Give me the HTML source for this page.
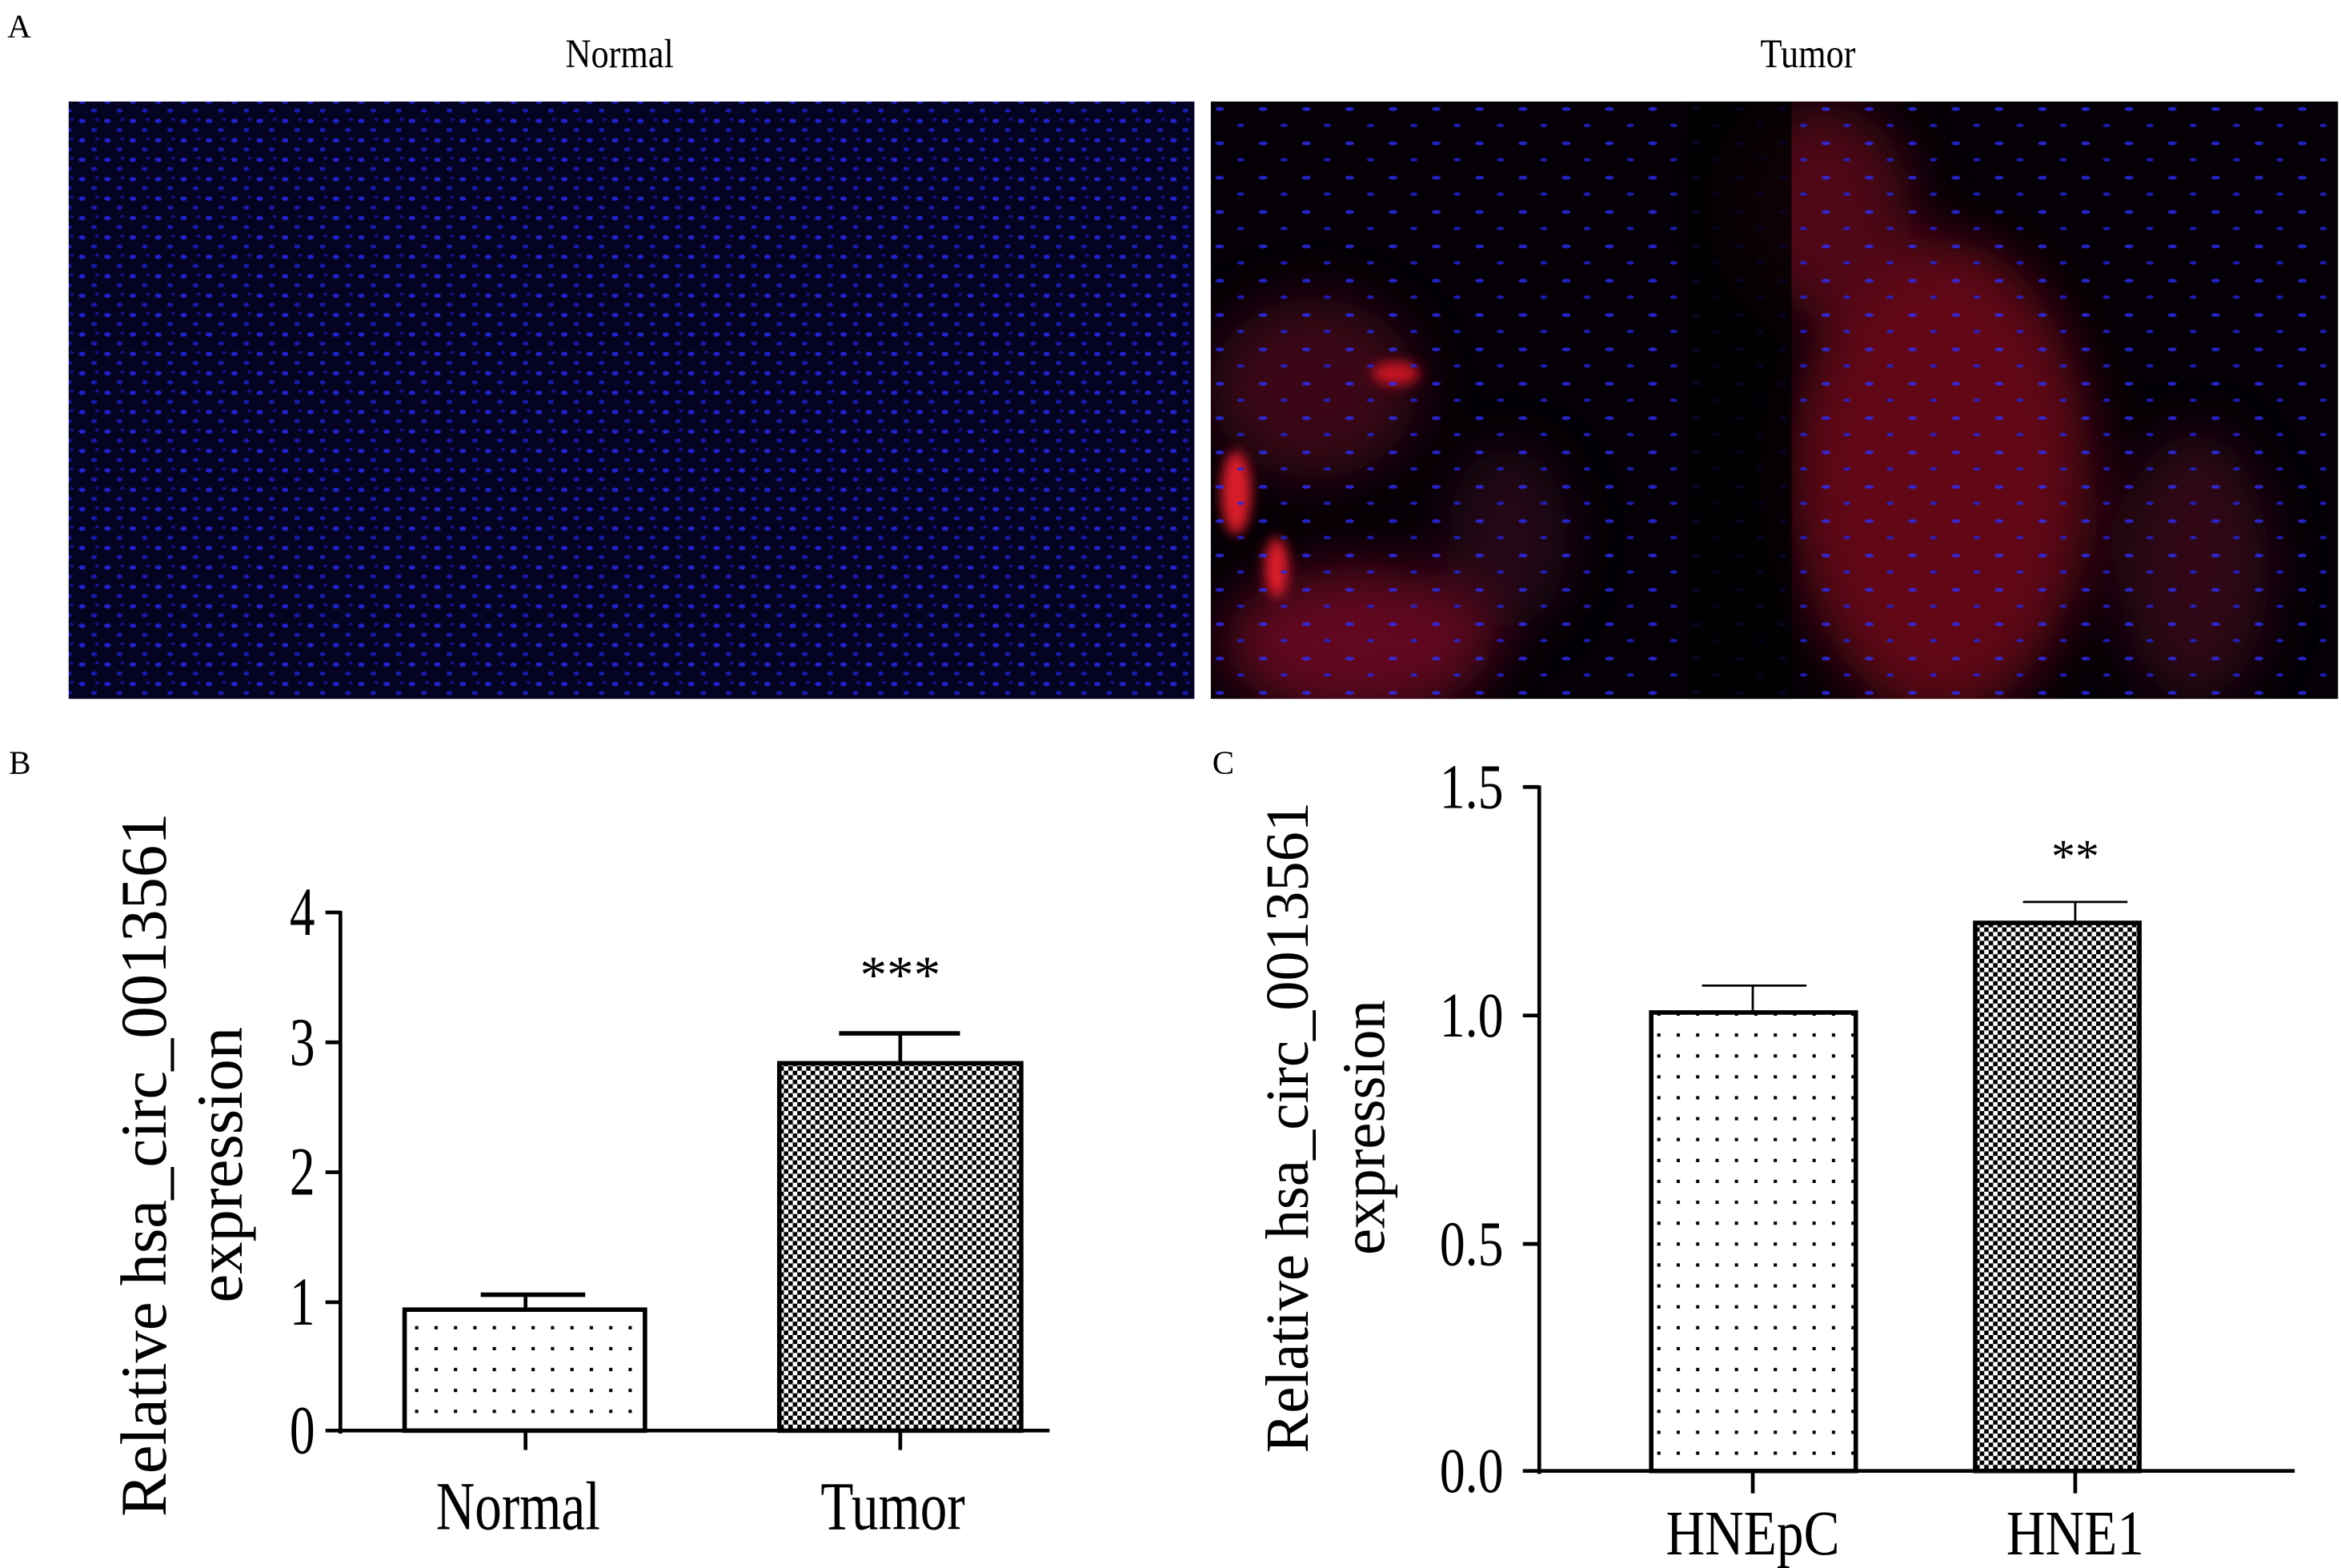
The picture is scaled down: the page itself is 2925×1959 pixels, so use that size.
<!DOCTYPE html>
<html><head><meta charset="utf-8"><style>html,body{margin:0;padding:0;background:#fff}svg{display:block}</style></head>
<body>
<svg width="2925" height="1959" viewBox="0 0 1568 1050" preserveAspectRatio="none" xmlns="http://www.w3.org/2000/svg" font-family="Liberation Serif, serif">
<defs>
<pattern id="dots" width="13" height="14" patternUnits="userSpaceOnUse"><rect width="13" height="14" fill="#fff"/><rect x="5" y="6" width="2.2" height="2.2" fill="#000"/></pattern>
<pattern id="chk" width="6" height="6" patternUnits="userSpaceOnUse"><rect width="6" height="6" fill="#fff"/><rect width="3" height="3" fill="#000"/><rect x="3" y="3" width="3" height="3" fill="#000"/></pattern>
<pattern id="nuc" width="17" height="13" patternUnits="userSpaceOnUse"><rect width="17" height="13" fill="#040422"/><ellipse cx="4" cy="3" rx="2.2" ry="1.5" fill="#2222c8"/><ellipse cx="12" cy="9" rx="2" ry="1.4" fill="#1a1aa8"/><ellipse cx="14" cy="2" rx="1.4" ry="1" fill="#12128a"/></pattern>
<pattern id="nuc2" width="29" height="23" patternUnits="userSpaceOnUse"><ellipse cx="5" cy="4" rx="3" ry="1.3" fill="#2f2fff"/><ellipse cx="19" cy="15" rx="2.5" ry="1.2" fill="#2525e0"/></pattern>
<filter id="bl" x="-50%" y="-50%" width="200%" height="200%"><feGaussianBlur stdDeviation="18"/></filter>
<filter id="bl2" x="-50%" y="-50%" width="200%" height="200%"><feGaussianBlur stdDeviation="4"/></filter>
<clipPath id="cr"><rect x="811" y="68" width="755" height="400"/></clipPath>
</defs>
<rect width="1568" height="1050" fill="#fff"/>
<text x="5" y="25" font-size="22">A</text>
<text transform="translate(415,45) scale(0.95,1.1)" font-size="25" text-anchor="middle">Normal</text>
<text transform="translate(1211,45) scale(0.95,1.1)" font-size="25" text-anchor="middle">Tumor</text>
<rect x="46" y="68" width="754" height="400" fill="url(#nuc)"/>
<rect x="811" y="68" width="755" height="400" fill="#040006"/>
<g clip-path="url(#cr)">
<g filter="url(#bl)" opacity="0.6">
<ellipse cx="1300" cy="320" rx="100" ry="160" fill="#a01020"/>
<ellipse cx="1220" cy="140" rx="60" ry="70" fill="#801020"/>
<ellipse cx="910" cy="430" rx="90" ry="50" fill="#a01030"/>
<ellipse cx="880" cy="260" rx="70" ry="60" fill="#600a20"/>
<ellipse cx="1470" cy="380" rx="50" ry="90" fill="#500a20"/>
<ellipse cx="1010" cy="360" rx="40" ry="60" fill="#3a0820"/>
</g>
<g filter="url(#bl2)" opacity="0.85">
<ellipse cx="828" cy="330" rx="10" ry="28" fill="#ff2030"/>
<ellipse cx="855" cy="380" rx="8" ry="20" fill="#ff2030"/>
<ellipse cx="935" cy="250" rx="16" ry="8" fill="#e01828"/>
</g>
<rect x="811" y="68" width="755" height="400" fill="url(#nuc2)" opacity="0.75"/>
<rect x="1130" y="68" width="70" height="400" fill="#020004" opacity="0.85"/>
</g>
<text x="6" y="518" font-size="22">B</text>
<text x="812" y="518" font-size="22">C</text>
<!-- Panel B -->
<g stroke="#000" stroke-width="2.5" fill="none">
<line x1="228" y1="610" x2="228" y2="960"/>
<line x1="228" y1="958" x2="703" y2="958"/>
<line x1="218" y1="611" x2="228" y2="611"/><line x1="218" y1="698" x2="228" y2="698"/><line x1="218" y1="785" x2="228" y2="785"/><line x1="218" y1="872" x2="228" y2="872"/><line x1="218" y1="958" x2="228" y2="958"/>
<line x1="352" y1="958" x2="352" y2="971"/><line x1="603" y1="958" x2="603" y2="971"/>
<rect x="271" y="877" width="161" height="81" fill="url(#dots)" stroke-width="3"/>
<line x1="352" y1="877" x2="352" y2="867"/><line x1="322" y1="867" x2="392" y2="867" stroke-width="3"/>
<rect x="522" y="712" width="162" height="246" fill="url(#chk)" stroke-width="3"/>
<line x1="603" y1="712" x2="603" y2="692"/><line x1="562" y1="692" x2="643" y2="692" stroke-width="3"/>
</g>
<g font-size="40" text-anchor="end">
<text transform="translate(211,626) scale(0.85,1.15)">4</text><text transform="translate(211,713) scale(0.85,1.15)">3</text><text transform="translate(211,800) scale(0.85,1.15)">2</text><text transform="translate(211,887) scale(0.85,1.15)">1</text><text transform="translate(211,973) scale(0.85,1.15)">0</text>
</g>
<text x="603" y="665" font-size="36" text-anchor="middle">***</text>
<text transform="translate(347,1024) scale(0.9,1.15)" font-size="40" text-anchor="middle">Normal</text>
<text transform="translate(598,1024) scale(0.9,1.15)" font-size="40" text-anchor="middle">Tumor</text>
<text transform="translate(111,780) rotate(-90) scale(1.08,1.1)" font-size="40" text-anchor="middle">Relative hsa_circ_0013561</text>
<text transform="translate(162,780) rotate(-90) scale(1.08,1.1)" font-size="40" text-anchor="middle">expression</text>
<!-- Panel C -->
<g stroke="#000" stroke-width="2.5" fill="none">
<line x1="1031" y1="526" x2="1031" y2="987"/>
<line x1="1031" y1="985" x2="1537" y2="985"/>
<line x1="1020" y1="527" x2="1031" y2="527"/><line x1="1020" y1="680" x2="1031" y2="680"/><line x1="1020" y1="833" x2="1031" y2="833"/><line x1="1020" y1="985" x2="1031" y2="985"/>
<line x1="1174" y1="985" x2="1174" y2="1000"/><line x1="1390" y1="985" x2="1390" y2="1000"/>
<rect x="1106" y="678" width="137" height="307" fill="url(#dots)" stroke-width="3"/>
<line x1="1174" y1="678" x2="1174" y2="660" stroke-width="1.5"/><line x1="1140" y1="660" x2="1210" y2="660" stroke-width="1.5"/>
<rect x="1323" y="618" width="110" height="367" fill="url(#chk)" stroke-width="3"/>
<line x1="1390" y1="618" x2="1390" y2="604" stroke-width="1.5"/><line x1="1355" y1="604" x2="1425" y2="604" stroke-width="1.5"/>
</g>
<g font-size="38" text-anchor="end">
<text transform="translate(1007,541) scale(0.9,1.12)">1.5</text><text transform="translate(1007,694) scale(0.9,1.12)">1.0</text><text transform="translate(1007,847) scale(0.9,1.12)">0.5</text><text transform="translate(1007,999) scale(0.9,1.12)">0.0</text>
</g>
<text x="1390" y="584" font-size="32" text-anchor="middle">**</text>
<text transform="translate(1174,1041) scale(0.95,1.12)" font-size="38" text-anchor="middle">HNEpC</text>
<text transform="translate(1390,1041) scale(0.95,1.12)" font-size="38" text-anchor="middle">HNE1</text>
<text transform="translate(876,755) rotate(-90) scale(1.08,1.1)" font-size="37" text-anchor="middle">Relative hsa_circ_0013561</text>
<text transform="translate(927,755) rotate(-90) scale(1.08,1.1)" font-size="37" text-anchor="middle">expression</text>
</svg>
</body></html>
